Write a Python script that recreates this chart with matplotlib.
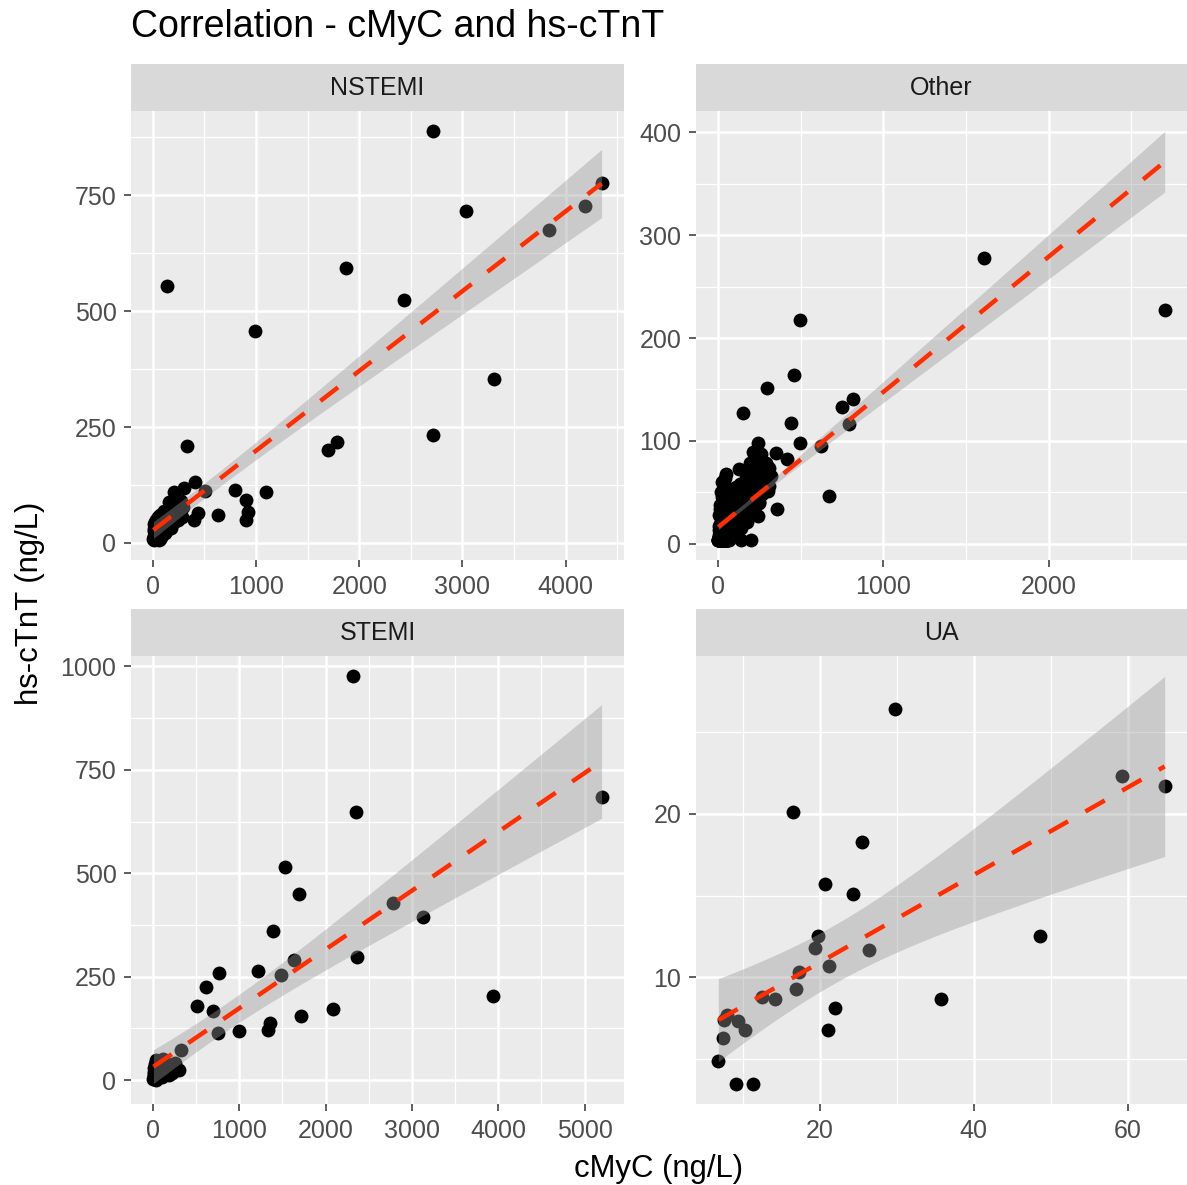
import numpy as np
import matplotlib
matplotlib.use('Agg')
import matplotlib.pyplot as plt
from matplotlib.ticker import MultipleLocator

plt.rcParams['font.family'] = ['Liberation Sans', 'DejaVu Sans']

# cMyC (x) and hs-cTnT (y), ng/L, per diagnosis group
nstemi_x = [135, 985, 330, 1875, 2435, 2715, 3034, 3304, 2715, 1700, 1787, 3836, 4184, 4348,
            792, 899, 918, 899, 1092, 628, 396, 435, 406, 300, 203, 155, 502,
            5, 8, 10, 12, 15, 18, 20, 22, 25, 28,
            30, 33, 35, 38, 40, 42, 45, 48, 50, 53,
            55, 58, 60, 63, 65, 68, 70, 73, 75, 78,
            80, 83, 85, 88, 90, 93, 95, 98, 100, 103,
            105, 108, 110, 113, 115, 118, 120, 123, 125, 128,
            130, 135, 140, 145, 150, 155, 160, 165, 170, 175,
            180, 185, 190, 195, 200, 210, 220, 230, 240, 250,
            260, 270, 280, 290, 15, 25, 35, 45, 55, 65,
            8, 12, 20, 30, 40]
nstemi_y = [554, 457, 209, 593, 524, 888, 716, 353, 233, 200, 218, 675, 726, 776,
            114, 93, 67, 50, 110, 60, 50, 65, 131, 118, 110, 88, 112,
            8, 25, 40, 15, 30, 9, 22, 45, 12, 35,
            20, 50, 9, 28, 42, 15, 32, 55, 22, 10,
            38, 26, 48, 18, 33, 60, 25, 42, 12, 35,
            50, 28, 20, 45, 62, 30, 40, 18, 55, 35,
            25, 48, 68, 38, 22, 52, 42, 30, 65, 45,
            35, 55, 28, 70, 48, 38, 60, 42, 75, 50,
            32, 65, 55, 80, 45, 68, 58, 85, 50, 72,
            62, 90, 55, 78, 12, 8, 30, 18, 7, 9,
            7, 10, 8, 14, 9]

other_x = [1610, 2703, 498, 462, 294, 150, 751, 817, 793, 625, 438, 498, 673, 414, 348, 354,
           240, 246, 198, 138, 240, 210, 258, 192, 126, 48,
           1, 2, 3, 4, 5, 6, 7, 8, 9, 10,
           11, 12, 13, 14, 15, 16, 17, 18, 19, 20,
           21, 22, 23, 24, 25, 26, 27, 28, 29, 30,
           31, 32, 33, 34, 35, 36, 37, 38, 39, 40,
           41, 42, 43, 44, 45, 46, 47, 48, 49, 50,
           51, 52, 53, 54, 55, 56, 57, 58, 59, 60,
           2, 4, 6, 8, 10, 12, 14, 16, 18, 20,
           22, 24, 26, 28, 30, 32, 34, 36, 38, 40,
           42, 44, 46, 48, 50, 52, 54, 56, 58, 60,
           3, 5, 7, 9, 11, 13, 15, 17, 19, 21,
           23, 25, 27, 29, 31, 33, 35, 37, 39, 41,
           43, 45, 47, 49, 51, 53, 55, 57, 59, 61,
           1, 3, 5, 7, 9, 11, 13, 15, 17, 19,
           21, 23, 25, 27, 29, 31, 33, 35, 37, 39,
           10, 18, 26, 34, 40, 6, 12, 24, 44, 50,
           62, 64, 66, 68, 70, 72, 74, 76, 78, 80,
           82, 84, 86, 88, 90, 92, 94, 96, 98, 100,
           102, 104, 106, 108, 110, 112, 114, 116, 118, 120,
           122, 124, 126, 128, 130, 132, 134, 136, 138, 140,
           142, 144, 146, 148, 150, 152, 154, 156, 158, 160,
           65, 69, 73, 77, 81, 85, 89, 93, 97, 101,
           105, 109, 113, 117, 121, 125, 129, 133, 137, 141,
           145, 149, 153, 157, 63, 71, 79, 87, 95, 103,
           111, 119, 127, 135, 143, 151, 159, 67, 75, 83,
           162, 164, 166, 168, 170, 172, 174, 176, 178, 180,
           182, 184, 186, 188, 190, 192, 194, 196, 198, 200,
           203, 206, 209, 212, 215, 218, 221, 224, 227, 230,
           233, 236, 240, 244, 248, 252, 256, 262, 268, 275,
           282, 290, 298, 306, 165, 175, 185, 195, 205, 215,
           230, 250, 270, 320, 310, 225, 245, 265, 285, 300]
other_y = [278, 227, 218, 164, 151, 127, 133, 141, 116, 95, 117, 98, 46, 82, 88, 34,
           27, 40, 4, 4, 98, 89, 87, 78, 73, 68,
           4, 4, 4, 5, 4, 7, 4, 4, 9, 4,
           5, 4, 12, 4, 4, 7, 4, 15, 5, 4,
           9, 4, 18, 4, 6, 12, 4, 8, 22, 4,
           11, 4, 6, 17, 4, 9, 25, 5, 13, 4,
           8, 19, 4, 12, 28, 6, 4, 15, 10, 21,
           5, 13, 4, 17, 9, 31, 4, 14, 8, 23,
           4, 4, 4, 7, 11, 4, 4, 4, 6, 10,
           4, 11, 4, 16, 4, 9, 4, 14, 4, 19,
           6, 4, 16, 5, 26, 8, 4, 18, 11, 6,
           8, 13, 17, 4, 4, 19, 10, 25, 4, 14,
           5, 24, 10, 4, 29, 7, 15, 4, 21, 4,
           23, 11, 35, 4, 16, 25, 4, 20, 38, 12,
           4, 4, 5, 4, 4, 10, 4, 4, 8, 16,
           4, 4, 11, 4, 7, 4, 13, 6, 9, 5,
           38, 50, 60, 42, 64, 28, 34, 45, 52, 55,
           10, 22, 14, 30, 8, 19, 27, 12, 35, 17,
           24, 9, 31, 20, 40, 14, 26, 33, 11, 29,
           21, 44, 16, 35, 25, 13, 38, 28, 48, 22,
           33, 18, 42, 30, 52, 25, 37, 15, 45, 32,
           56, 28, 40, 22, 48, 36, 60, 30, 44, 38,
           25, 17, 38, 22, 45, 15, 33, 50, 24, 37,
           27, 55, 31, 19, 46, 36, 24, 58, 40, 27,
           47, 35, 52, 25, 4, 6, 28, 10, 18, 8,
           40, 34, 18, 28, 38, 20, 55, 40, 45, 52,
           56, 40, 68, 48, 34, 61, 52, 72, 44, 58,
           50, 66, 36, 62, 54, 74, 46, 64, 56, 70,
           51, 68, 60, 76, 54, 66, 48, 72, 62, 78,
           56, 69, 64, 74, 58, 70, 66, 76, 61, 72,
           68, 78, 64, 74, 26, 21, 31, 38, 34, 42,
           46, 50, 54, 66, 56, 36, 41, 48, 56, 51]

stemi_x = [2321, 2356, 1524, 1686, 1386, 2783, 3129, 762, 612, 508, 693, 750, 993, 1212,
           1628, 1478, 1328, 1351, 1720, 2090, 2367, 323, 300, 3938, 5196,
           5, 8, 10, 12, 15, 18, 20, 25, 28, 30,
           35, 40, 45, 50, 55, 60, 65, 70, 80, 90,
           100, 110, 120, 140, 160, 180, 200, 220, 250, 280,
           40, 15]
stemi_y = [976, 649, 514, 450, 360, 428, 394, 260, 226, 178, 166, 113, 118, 264,
           291, 255, 120, 139, 154, 171, 298, 72, 24, 204, 685,
           3, 10, 20, 5, 30, 8, 15, 40, 3, 22,
           12, 48, 6, 25, 18, 35, 10, 28, 45, 15,
           32, 8, 50, 22, 38, 12, 30, 18, 42, 28,
           1, 14]

ua_x = [29.8, 16.5, 25.5, 20.6, 24.3, 19.8, 19.4, 26.4, 21.2, 17.3, 16.9, 12.5, 14.2, 21.9,
        21.1, 35.7, 48.6, 59.3, 64.8, 7.5, 7.9, 9.3, 10.3, 7.4, 6.8, 9.1, 11.3]
ua_y = [26.4, 20.1, 18.3, 15.7, 15.1, 12.5, 11.8, 11.7, 10.7, 10.3, 9.3, 8.8, 8.7, 8.1,
        6.8, 8.7, 12.5, 22.3, 21.7, 7.4, 7.7, 7.3, 6.8, 6.3, 4.9, 3.5, 3.5]

groups = ['NSTEMI', 'Other', 'STEMI', 'UA']
xs = [nstemi_x, other_x, stemi_x, ua_x]
ys = [nstemi_y, other_y, stemi_y, ua_y]
xsteps = [1000, 1000, 1000, 20]
ysteps = [250, 100, 250, 10]

W, H = 1187, 1185
# panel boxes in pixels: left, top, right, bottom
boxes = [(131, 111, 624, 560), (696, 111, 1187, 560),
         (131, 656, 624, 1104), (696, 656, 1187, 1104)]
strip_h = 47


def t_crit(df, z=1.959964):
    # Cornish-Fisher approximation of the 97.5% t quantile
    return (z + (z**3 + z) / (4 * df) + (5 * z**5 + 16 * z**3 + 3 * z) / (96 * df**2)
            + (3 * z**7 + 19 * z**5 + 17 * z**3 - 15 * z) / (384 * df**3))


def lm_band(x, y):
    x = np.asarray(x, float)
    y = np.asarray(y, float)
    n = len(x)
    m, b = np.polyfit(x, y, 1)
    res = y - (b + m * x)
    s = np.sqrt(np.sum(res**2) / (n - 2))
    xx = np.linspace(x.min(), x.max(), 80)
    fit = b + m * xx
    se = s * np.sqrt(1 / n + (xx - x.mean())**2 / np.sum((x - x.mean())**2))
    t = t_crit(n - 2)
    return xx, fit, fit - t * se, fit + t * se


fig = plt.figure(figsize=(W / 100, H / 100), dpi=100)

for i, g in enumerate(groups):
    l, t, r, btm = boxes[i]
    ax = fig.add_axes([l / W, 1 - btm / H, (r - l) / W, (btm - t) / H])
    ax.set_facecolor('#EBEBEB')
    for sp in ax.spines.values():
        sp.set_visible(False)

    ax.scatter(xs[i], ys[i], s=100, color='black', linewidths=0, zorder=3)
    xx, fit, lo, hi = lm_band(xs[i], ys[i])
    ax.fill_between(xx, lo, hi, color='#999999', alpha=0.4, linewidth=0, zorder=4)
    ax.plot(xx, fit, color='#FF2D00', lw=3.2, dashes=(5.0, 4.5), solid_capstyle='butt',
            dash_capstyle='butt', zorder=5)

    ax.margins(0.05)
    ax.xaxis.set_major_locator(MultipleLocator(xsteps[i]))
    ax.yaxis.set_major_locator(MultipleLocator(ysteps[i]))
    ax.xaxis.set_minor_locator(MultipleLocator(xsteps[i] / 2))
    ax.yaxis.set_minor_locator(MultipleLocator(ysteps[i] / 2))
    ax.grid(True, which='major', color='white', lw=1.8, zorder=0)
    ax.grid(True, which='minor', color='white', lw=0.9, zorder=0)
    ax.set_axisbelow(True)
    ax.tick_params(which='major', length=5, width=1.1, color='#333333',
                   labelsize=18, labelcolor='#4D4D4D', pad=5.5)
    ax.tick_params(which='minor', length=0)

    # facet strip
    sx = fig.add_axes([l / W, 1 - t / H, (r - l) / W, strip_h / H])
    sx.set_facecolor('#D9D9D9')
    sx.set_xticks([])
    sx.set_yticks([])
    for sp in sx.spines.values():
        sp.set_visible(False)
    sx.text(0.5, 0.48, g, ha='center', va='center', fontsize=18, color='#1A1A1A',
            transform=sx.transAxes)

fig.text(131 / W, 1 - 37 / H, 'Correlation - cMyC and hs-cTnT', fontsize=27,
         color='black', va='baseline', ha='left')
fig.text(659 / W, 1 - 1177 / H, 'cMyC (ng/L)', fontsize=22.4, color='black',
         va='baseline', ha='center')
fig.text(30 / W, 1 - 603 / H, 'hs-cTnT (ng/L)', fontsize=22.4, color='black',
         va='center', ha='center', rotation=90)

fig.savefig('out.png', dpi=100, facecolor='white')
